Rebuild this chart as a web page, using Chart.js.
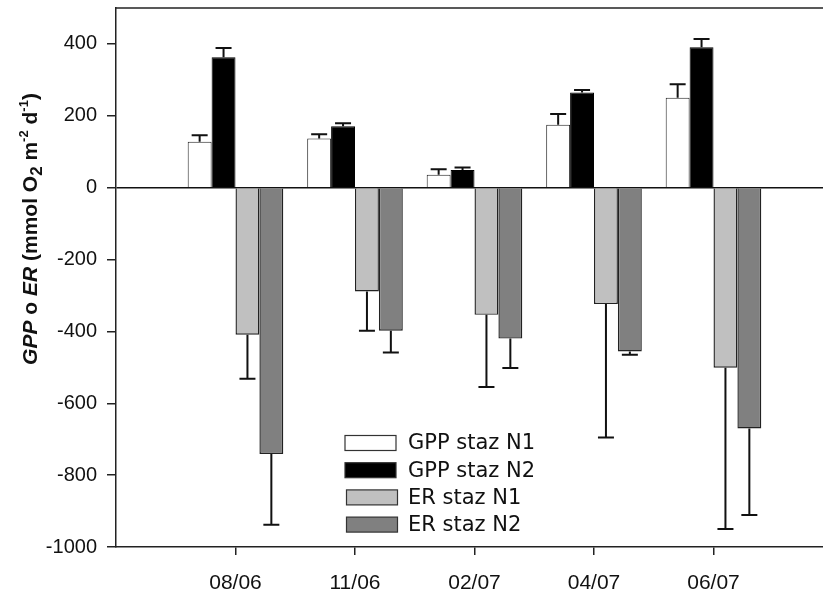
<!DOCTYPE html>
<html>
<head>
<title>GPP o ER</title>
<script src="https://cdn.jsdelivr.net/npm/chart.js@4.4.1/dist/chart.umd.min.js"></script>
<style>
    html, body { margin: 0; padding: 0; overflow: hidden; background: #fff; }
</style>
</head>
<body>
<canvas id="myChart" width="833" height="597"></canvas>

<script>
    // dates of sampling
    var categories = ["08/06", "11/06", "02/07", "04/07", "06/07"];

    var gppN1 = [128, 137, 36, 175, 250];
    var gppN2 = [363, 171, 49, 265, 391];
    var erN1 = [-409, -289, -354, -324, -501];
    var erN2 = [-741, -398, -420, -456, -670];

    // one-sided error bars (standard deviation)
    var gppN1Err = [18, 12, 15, 30, 38];
    var gppN2Err = [26, 8, 7, 7, 23];
    var erN1Err = [123, 109, 201, 371, 449];
    var erN2Err = [197, 61, 82, 9, 241];

    var yTicks = [-1000, -800, -600, -400, -200, 0, 200, 400];
    var seriesNames = ["GPP staz N1", "GPP staz N2", "ER staz N1", "ER staz N2"];

    // empty slot on each side, like the original plot
    var labels = [""].concat(categories, [""]);
    function pad(arr) {
        return [null].concat(arr, [null]);
    }

    var errorBars = {
        id: "errorBars",
        afterDatasetsDraw: function (chart) {
            var ctx = chart.ctx;
            var y = chart.scales.y;
            ctx.save();
            ctx.strokeStyle = "#111";
            ctx.lineWidth = 2;
            chart.data.datasets.forEach(function (ds, i) {
                var meta = chart.getDatasetMeta(i);
                meta.data.forEach(function (bar, j) {
                    var v = ds.data[j];
                    if (v === null) return;
                    var e = ds.errs[j - 1];
                    var end = y.getPixelForValue(v >= 0 ? v + e : v - e);
                    ctx.beginPath();
                    ctx.moveTo(bar.x, bar.y);
                    ctx.lineTo(bar.x, end);
                    ctx.moveTo(bar.x - 8, end);
                    ctx.lineTo(bar.x + 8, end);
                    ctx.stroke();
                });
            });
            ctx.restore();
        }
    };

    var extras = {
        id: "extras",
        afterDraw: function (chart) {
            var ctx = chart.ctx;
            var a = chart.chartArea;
            ctx.save();

            // top frame line
            ctx.strokeStyle = "#222";
            ctx.lineWidth = 1.5;
            ctx.beginPath();
            ctx.moveTo(a.left, a.top);
            ctx.lineTo(a.right, a.top);
            ctx.stroke();

            // legend inside the plot
            ctx.font = "21px 'DejaVu Sans'";
            ctx.textBaseline = "middle";
            chart.data.datasets.forEach(function (ds, i) {
                var cy = 443 + i * 27.2;
                var bx = i < 2 ? 345 : 346.5;
                ctx.fillStyle = ds.backgroundColor;
                ctx.fillRect(bx, cy - 7.5, 51, 15);
                ctx.strokeStyle = "#333";
                ctx.lineWidth = 1.2;
                ctx.strokeRect(bx, cy - 7.5, 51, 15);
                ctx.fillStyle = "#111";
                ctx.fillText(ds.label, 408, cy + 1);
            });

            // y axis title with italics, subscript and superscripts
            var parts = [
                { t: "GPP", it: true },
                { t: " o " },
                { t: "ER", it: true },
                { t: " (mmol O" },
                { t: "2", size: 17, dy: 5 },
                { t: " m" },
                { t: "-2", size: 13, dy: -9 },
                { t: " d" },
                { t: "-1", size: 13, dy: -9 },
                { t: ")" }
            ];
            function fontOf(p) {
                return (p.it ? "italic " : "") + "bold " + (p.size || 21) + "px 'Liberation Sans', Arial";
            }
            var total = 0;
            parts.forEach(function (p) {
                ctx.font = fontOf(p);
                p.w = ctx.measureText(p.t).width;
                total += p.w;
            });
            ctx.translate(37, 229);
            ctx.rotate(-Math.PI / 2);
            ctx.textBaseline = "alphabetic";
            ctx.fillStyle = "#111";
            var x = -total / 2;
            parts.forEach(function (p) {
                ctx.font = fontOf(p);
                ctx.fillText(p.t, x, p.dy || 0);
                x += p.w;
            });
            ctx.restore();
        }
    };

    var ctx = document.getElementById("myChart").getContext("2d");
    new Chart(ctx, {
        type: "bar",
        data: {
            labels: labels,
            datasets: [
                { label: seriesNames[0], data: pad(gppN1), errs: gppN1Err, backgroundColor: "#ffffff", borderColor: "#222", borderWidth: 1 },
                { label: seriesNames[1], data: pad(gppN2), errs: gppN2Err, backgroundColor: "#000000", borderColor: "#000", borderWidth: 1 },
                { label: seriesNames[2], data: pad(erN1), errs: erN1Err, backgroundColor: "#c0c0c0", borderColor: "#222", borderWidth: 1.4 },
                { label: seriesNames[3], data: pad(erN2), errs: erN2Err, backgroundColor: "#808080", borderColor: "#222", borderWidth: 1.4 }
            ]
        },
        options: {
            responsive: false,
            animation: false,
            layout: { padding: { top: 8, right: 0, left: 0, bottom: 0 } },
            categoryPercentage: 0.8,
            barPercentage: 1,
            plugins: {
                legend: { display: false },
                tooltip: { enabled: false }
            },
            scales: {
                x: {
                    type: "category",
                    offset: false,
                    border: { color: "#222", width: 1.5 },
                    grid: {
                        offset: false,
                        drawOnChartArea: false,
                        tickLength: 8,
                        lineWidth: 1.5,
                        tickColor: function (c) {
                            return (c.index === 0 || c.index === labels.length - 1) ? "rgba(0,0,0,0)" : "#222";
                        }
                    },
                    ticks: {
                        autoSkip: false,
                        maxRotation: 0,
                        padding: 16,
                        color: "#111",
                        font: { family: "'Liberation Sans', Arial", size: 21 }
                    },
                    afterFit: function (scale) {
                        scale.height = 50;
                        scale.paddingLeft = 0;
                        scale.paddingRight = 0;
                    }
                },
                y: {
                    min: -1000,
                    max: 500,
                    border: { color: "#222", width: 1.5 },
                    grid: {
                        tickLength: 9,
                        lineWidth: 1.5,
                        tickColor: "#222",
                        color: function (c) {
                            return c.tick && c.tick.value === 0 ? "#111" : "rgba(0,0,0,0)";
                        }
                    },
                    ticks: {
                        padding: 10,
                        color: "#111",
                        font: { family: "'Liberation Sans', Arial", size: 20 },
                        callback: function (v) { return String(v); }
                    },
                    afterBuildTicks: function (scale) {
                        scale.ticks = yTicks.map(function (v) { return { value: v }; });
                    },
                    afterFit: function (scale) {
                        scale.width = 116;
                        scale.paddingTop = 0;
                        scale.paddingBottom = 0;
                    }
                }
            }
        },
        plugins: [errorBars, extras]
    });
</script>
</body>
</html>
